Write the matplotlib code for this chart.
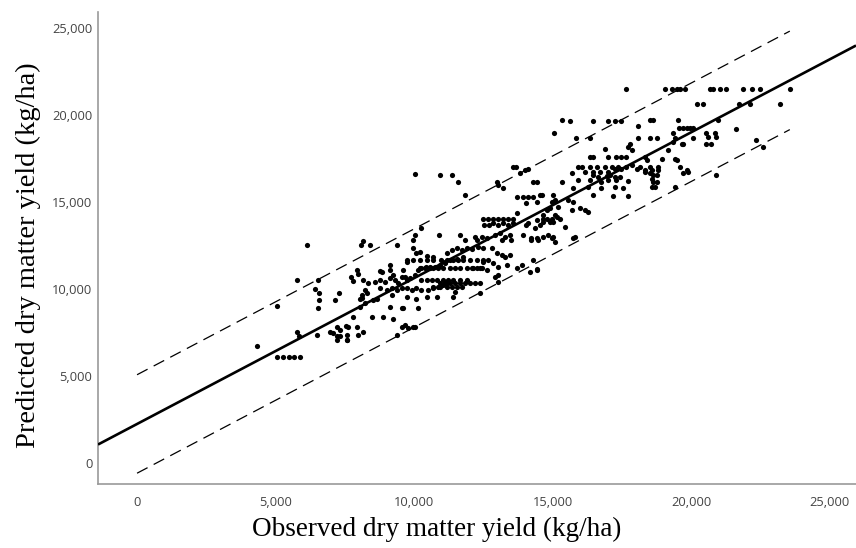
import numpy as np
import matplotlib
matplotlib.use("Agg")
import matplotlib.pyplot as plt
from matplotlib.ticker import FuncFormatter

# observed / predicted dry matter yield (kg/ha)
low_yield = [
    (4330, 6720), (5040, 6110), (5260, 6110), (5470, 6110), (5670, 6110), (5880, 6110),
    (5040, 9020), (5760, 10520), (6120, 12530), (5760, 7550), (5830, 7300), (6500, 7360),
    (6530, 10520), (6430, 10000), (6570, 9770), (6570, 9370), (6530, 8910),
    (7280, 9790), (7150, 9370), (6960, 7550), (7080, 7490), (7220, 7320), (7330, 7300),
    (7540, 7870), (7580, 7070), (7210, 7830), (7330, 7640), (7630, 7830), (7930, 7830),
    (7570, 7360), (7990, 7360), (7210, 7070), (7740, 10710), (7780, 10460), (7800, 8410),
    (8050, 9460), (7930, 11090), (7990, 10860), (8090, 12530), (7570, 7070),
]

mid_yield = [
    (8170, 12780), (8410, 12530), (9370, 12530), (9950, 12820), (10030, 13100), (10270, 13490),
    (10910, 13100), (9950, 12340), (10090, 12050), (10210, 12110), (10460, 11900), (10700, 11860),
    (11180, 12050), (9740, 11570), (9130, 11380), (9130, 11090), (8780, 11050), (8830, 10990),
    (9610, 11090), (9680, 10710), (8160, 10520), (8340, 10340), (8230, 9940), (8300, 9770),
    (8590, 10430), (8780, 10520), (8960, 10430), (9130, 10630), (9250, 10830), (9310, 10520),
    (9430, 10330), (9560, 10710), (9740, 10520), (9860, 10630), (10030, 10830), (10150, 11110),
    (10270, 11210), (10440, 11300), (10580, 11300), (10760, 11300), (10930, 11400), (11110, 11480),
    (8780, 10040), (9010, 9940), (9190, 10040), (9370, 9940), (9560, 10040), (9740, 10040),
    (9920, 9940), (10090, 10040), (10270, 9940), (10520, 9940), (10700, 10040), (10870, 10130),
    (11050, 10230), (11180, 10330), (8110, 9650), (8520, 9370), (8660, 9460), (9190, 9650),
    (9740, 9560), (10090, 9460), (10460, 9560), (10820, 9560), (9130, 8980), (9560, 8890),
    (10150, 8890), (9610, 8890), (8470, 8410), (8890, 8410), (9250, 8310), (8170, 7550),
    (9370, 7360), (9560, 7830), (9790, 7740), (10030, 7830), (9680, 7930), (9980, 7830),
    (8120, 9480), (8230, 9210), (8050, 8970), (10020, 16600), (10930, 16550), (11360, 16550),
    (11600, 16170), (11840, 15400), (11420, 9560), (11480, 9840), (12380, 9750),
    (10700, 10130), (10930, 10130), (11180, 10130), (11360, 10130), (11540, 10130), (11720, 10130),
    (11900, 10520), (10270, 10520), (10460, 10520), (10640, 10520), (10820, 10520), (11050, 10520),
    (11240, 10520), (11420, 10520), (11660, 10520),
    (10210, 11200), (10400, 11200), (10580, 11200), (10700, 11200), (10870, 11200), (11050, 11200),
    (11300, 11200), (11480, 11200), (11660, 11200), (11900, 11200), (12090, 11200), (12260, 11200),
    (12440, 11200), (9740, 11670), (9980, 11670), (10210, 11670), (10460, 11670), (10700, 11670),
    (10990, 11670), (11180, 11670), (11420, 11670), (11600, 11670), (11780, 11670), (12020, 11670),
    (12260, 11670), (12500, 11670),
    (11360, 12240), (11540, 12340), (11720, 12240), (11900, 12340), (12090, 12290), (12320, 12440),
    (12500, 12340), (12810, 12340), (12990, 12050), (11110, 11570), (11300, 11670), (11540, 11760),
    (11780, 11860), (12500, 11570), (12680, 11670), (12870, 11480), (13050, 11280), (12380, 11190),
    (12620, 11090), (12140, 11190),
    (10930, 10330), (11110, 10330), (11300, 10330), (11480, 10330), (11660, 10330), (11840, 10330),
    (12020, 10330), (12200, 10330), (12380, 10330), (12930, 10710), (13050, 10420), (13050, 10800),
    (12990, 16170), (13050, 15980),
    (12500, 14060), (12680, 14060), (12870, 14060), (13050, 14060),
    (12530, 13700), (12710, 13700), (12870, 13800), (13050, 13700),
    (11660, 13100), (11840, 12820), (12200, 13010), (12260, 12820), (12440, 13010), (12620, 12920),
    (12930, 13100), (13100, 13200),
]

high_yield = [
    (13160, 11950), (13280, 11860), (13460, 11950), (13340, 11380), (13710, 11190), (13890, 11380),
    (14180, 10990), (14430, 11090), (13220, 15790), (13590, 17030), (13690, 17000), (13830, 16650),
    (14010, 16840), (14120, 16880), (14300, 16170), (14430, 16170), (13710, 15270), (13950, 15270),
    (14120, 15270), (14300, 15270), (14550, 15400), (14060, 14960), (14430, 15020), (13710, 14380),
    (13220, 14060), (13400, 14060), (13590, 14060), (13220, 13800), (13400, 13700), (13590, 13800),
    (13280, 13010), (13460, 13100), (13520, 12820), (13160, 12820), (13950, 13100), (14240, 12920),
    (14430, 12920), (14670, 13010), (14850, 13100), (14060, 13680), (14360, 13490), (14670, 14060),
    (14120, 13780), (14430, 13970), (14550, 13680), (14670, 13870), (14790, 14060), (14910, 13870),
    (15030, 13870), (15150, 14150), (14240, 12820), (14490, 12820), (14970, 12920), (15090, 12720),
    (15750, 12920), (14300, 11670), (14430, 11130), (15450, 13580), (15030, 13010), (15810, 13010),
    (15330, 19710), (15630, 19670), (16470, 19670), (17010, 19670), (17250, 19670), (17490, 19670),
    (18100, 19370), (15050, 18950), (15840, 18660), (16350, 18660), (18100, 18660), (17800, 18370),
    (17740, 18180), (17860, 17990), (16900, 18030), (17670, 21530),
    (16350, 17570), (16470, 17570), (17010, 17570), (17310, 17570), (17490, 17570), (17650, 17570),
    (15930, 17010), (16060, 17010), (16180, 16740), (16350, 17010), (16470, 16740), (16590, 17010),
    (16710, 16740), (16900, 17010), (17010, 16740), (17140, 17010), (17250, 16930), (17370, 17010),
    (17490, 16930), (17670, 17030), (17860, 17130), (18040, 16930), (18160, 17010), (18340, 16740),
    (15690, 16680), (16470, 16550), (16650, 16450), (16960, 16490), (17080, 16550), (17250, 16450),
    (17430, 16450), (15330, 16170), (15930, 16260), (16350, 16260), (16770, 16170), (17010, 16260),
    (17310, 16260), (17740, 16210), (15750, 15790), (16290, 15880), (16770, 15790), (17250, 15880),
    (17550, 15790), (16470, 15400), (17190, 15340), (17740, 15340), (14610, 15400), (15030, 15400),
    (15090, 15110), (14970, 15020), (15570, 15110), (15750, 15020), (15690, 14540), (15990, 14640),
    (16180, 14540), (16290, 14440), (14790, 14540), (14910, 14640), (15200, 14730), (15090, 14250),
    (15270, 14060), (14970, 14060), (14670, 14250),
    (19060, 21530), (19300, 21530), (19490, 21530), (19600, 21530), (19780, 21530), (20680, 21530),
    (20800, 21530), (21050, 21530), (21270, 21530), (21890, 21530), (22190, 21530), (22510, 21530),
    (23580, 21530), (20210, 20670), (20440, 20670), (21740, 20670), (22150, 20670), (23230, 20670),
    (19540, 19750), (18510, 19710), (18640, 19750), (20980, 19710), (21630, 19230),
    (19580, 19290), (19720, 19290), (19840, 19290), (19960, 19290), (20080, 19290),
    (18510, 18660), (18760, 18660), (19370, 18950), (19420, 18660), (19370, 18470), (20080, 18660),
    (20560, 18950), (20620, 18760), (20860, 18950), (20920, 18760), (20560, 18330), (20740, 18330),
    (19660, 18330), (19720, 18330), (19180, 17990), (18340, 17600), (18400, 17410), (18940, 17510),
    (19420, 17510), (19490, 17410), (18340, 16840), (18510, 17030), (18580, 16840), (18510, 16650),
    (18640, 16550), (18820, 17030), (18820, 16840), (18760, 16550), (18580, 16360), (18640, 16170),
    (18760, 16170), (18700, 15880), (18580, 15880), (19600, 17030), (19840, 16840), (19900, 16740),
    (19720, 16650), (19420, 15880), (20920, 16550), (22360, 18580), (22610, 18180),
]

# regression line and prediction band
fit_intercept = 2250
fit_slope = 0.838
band_halfwidth = 2830
band_x = [0, 23570]

x_ticks = [0, 5000, 10000, 15000, 20000, 25000]
y_ticks = [0, 5000, 10000, 15000, 20000, 25000]

points = np.array(low_yield + mid_yield + high_yield, dtype=float)
observed = points[:, 0]
predicted = points[:, 1]

fig = plt.figure(figsize=(8.56, 5.48), dpi=100)
ax = fig.add_axes([0.1145, 0.1168, 0.8855, 0.8619])
ax.set_xlim(-1410, 25960)
ax.set_ylim(-1200, 25950)

ax.scatter(observed, predicted, s=14, color="black", linewidths=0, zorder=3)

line_x = np.array(ax.get_xlim())
ax.plot(line_x, fit_intercept + fit_slope * line_x, color="black", lw=1.9, zorder=4,
        solid_capstyle="butt")
bx = np.array(band_x, dtype=float)
for sign in (1, -1):
    ax.plot(bx, fit_intercept + fit_slope * bx + sign * band_halfwidth, color="black",
            lw=0.9, dashes=(9.5, 5.5), zorder=2)

for side in ("top", "right"):
    ax.spines[side].set_visible(False)
for side in ("left", "bottom"):
    ax.spines[side].set_color("#9a9a9a")
    ax.spines[side].set_linewidth(1.2)

fmt = FuncFormatter(lambda v, _: f"{int(v):,}")
ax.set_xticks(x_ticks)
ax.set_yticks(y_ticks)
ax.xaxis.set_major_formatter(fmt)
ax.yaxis.set_major_formatter(fmt)
ax.tick_params(length=0, labelsize=9.3, labelcolor="#444444")
ax.tick_params(axis="x", pad=9)
ax.tick_params(axis="y", pad=4)
for lab in ax.get_xticklabels() + ax.get_yticklabels():
    lab.set_fontfamily("Open Sans")

ax.set_xlabel("Observed dry matter yield (kg/ha)", family="Liberation Serif", fontsize=19.5)
ax.set_ylabel("Predicted dry matter yield (kg/ha)", family="Liberation Serif", fontsize=20.5)
ax.xaxis.set_label_coords(0.447, -0.070)
ax.yaxis.set_label_coords(-0.075, 0.485)

fig.savefig("out.png", dpi=100)
